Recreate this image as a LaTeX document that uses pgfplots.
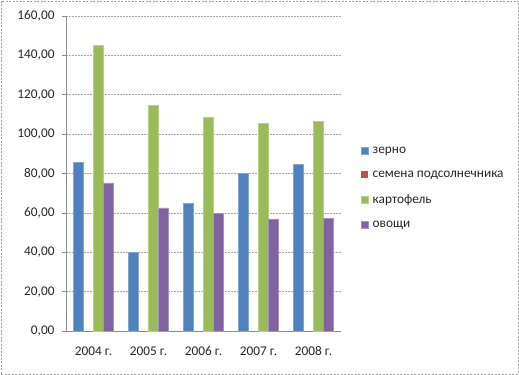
\documentclass[border=0pt]{standalone}
\usepackage{pgfplots}
\pgfplotsset{compat=1.18}
\usepackage{fontspec}
\setmainfont{Carlito}
\definecolor{cBlue}{HTML}{4F81BD}
\definecolor{cRed}{HTML}{C0504D}
\definecolor{cGreen}{HTML}{9BBB59}
\definecolor{cPurple}{HTML}{8064A2}
\definecolor{cText}{HTML}{262626}
\begin{document}
\begin{tikzpicture}
\useasboundingbox (0bp,0bp) rectangle (519bp,375bp);
\draw[gray!75, dash pattern=on 2bp off 1.5bp, line width=0.8bp] (1bp,1bp) rectangle (518bp,374bp);
\begin{axis}[
  at={(66bp,44bp)}, anchor=south west,
  scale only axis, width=275bp, height=315bp,
  ymin=0, ymax=160, ytick={0,20,...,160},
  xmin=-0.5, xmax=4.5,
  xtick={0,1,2,3,4},
  xticklabels={2004 г.,2005 г.,2006 г.,2007 г.,2008 г.},
  x tick style={draw=none},
  extra x ticks={-0.5,0.5,1.5,2.5,3.5,4.5},
  extra x tick labels={},
  extra x tick style={grid=none, major tick length=4bp, tick align=outside, tick style={draw=gray!90, line width=0.6bp}},
  axis x line*=bottom, axis y line*=left,
  axis line style={gray!90, line width=0.6bp},
  y tick style={gray!90, line width=0.6bp},
  tick align=outside, major tick length=4bp,
  ymajorgrids,
  major grid style={gray!70, dash pattern=on 2bp off 1bp, line width=0.6bp},
  /pgf/number format/fixed, /pgf/number format/fixed zerofill,
  /pgf/number format/precision=2, /pgf/number format/use comma,
  /pgf/number format/assume math mode=true,
  tick label style={font=\fontsize{13.3bp}{15bp}\selectfont, text=cText},
  yticklabel style={xshift=-4bp},
  xticklabel style={yshift=-8bp},
  ybar=0pt, bar width=0.1818,
  legend style={at={(1.073,0.454)}, anchor=west, draw=none, fill=none, inner sep=0pt,
    row sep=13bp, font=\fontsize{13.3bp}{15bp}\selectfont, text=cText,
    nodes={inner sep=1.5bp},
    /tikz/every odd column/.append style={column sep=2.5bp}},
  legend cell align=left,
  legend image code/.code={\fill[#1] (0bp,-3.5bp) rectangle (7bp,3.5bp);},
  clip=false,
]
\addplot[fill=cBlue, draw=cBlue!70!white] coordinates {(0,85.8) (1,39.8) (2,64.9) (3,80.1) (4,84.5)};
\addplot[fill=cRed, draw=none] coordinates {(0,0) (1,0) (2,0) (3,0) (4,0)};
\addplot[fill=cGreen, draw=cGreen!70!white] coordinates {(0,145.1) (1,114.6) (2,108.5) (3,105.3) (4,106.5)};
\addplot[fill=cPurple, draw=cPurple!70!white] coordinates {(0,75.3) (1,62.6) (2,59.8) (3,56.9) (4,57.2)};
\legend{зерно, семена подсолнечника, картофель, овощи}
\end{axis}
\end{tikzpicture}
\end{document}
